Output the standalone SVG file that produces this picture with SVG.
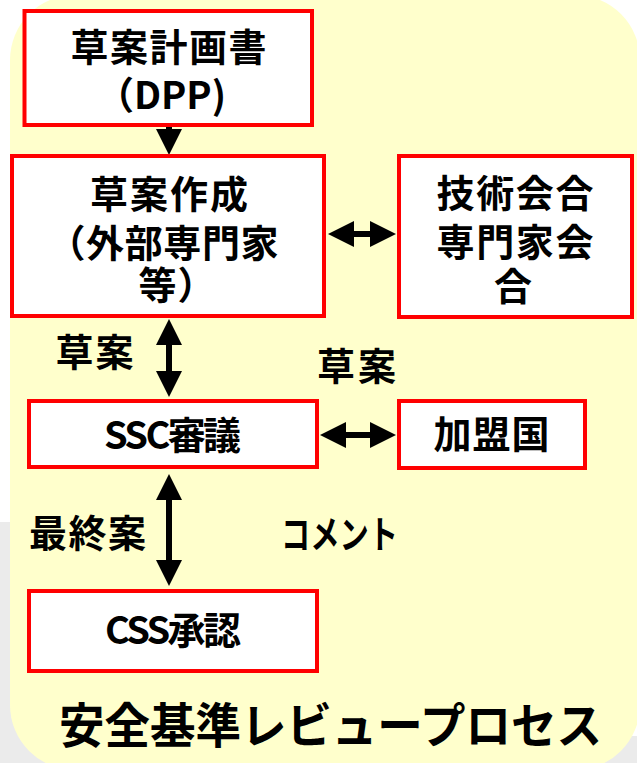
<svg xmlns="http://www.w3.org/2000/svg" width="637" height="763" viewBox="0 0 637 763">
<style>
.box{fill:#ffffff;stroke:#ff0000;stroke-width:4}
.t{font-family:"Noto Sans CJK JP","Noto Sans",sans-serif;font-weight:bold;font-size:38px;fill:#000;text-anchor:middle}
.title{font-size:48px}
.c{stroke:#000;stroke-width:6;fill:none}
</style>
<defs>
<marker id="ah" viewBox="0 0 26 26" refX="1" refY="13" markerWidth="26" markerHeight="26" markerUnits="userSpaceOnUse" orient="auto-start-reverse">
<path d="M0,0 L26,13 L0,26 z" fill="#000"/>
</marker>
</defs>
<rect x="0" y="0" width="637" height="763" fill="#ffffff"/>
<rect x="0" y="522" width="637" height="241" fill="#ebebeb"/>
<rect x="600" y="522" width="37" height="214" fill="#ffffff"/>
<rect x="10" y="-5" width="630" height="775" rx="65" ry="65" fill="#ffffcc"/>

<g id="connectors">
<line class="c" x1="169" y1="125" x2="169" y2="130" marker-end="url(#ah)"/>
<line class="c" x1="353" y1="234" x2="371" y2="234" marker-start="url(#ah)" marker-end="url(#ah)"/>
<line class="c" x1="169" y1="344" x2="169" y2="372" marker-start="url(#ah)" marker-end="url(#ah)"/>
<line class="c" x1="345" y1="435" x2="371" y2="435" marker-start="url(#ah)" marker-end="url(#ah)"/>
<line class="c" x1="169" y1="499" x2="169" y2="561" marker-start="url(#ah)" marker-end="url(#ah)"/>
</g>

<g id="node-dpp">
<rect class="box" x="24.5" y="11" width="287.5" height="114"/>
<text class="t" x="168.5" y="61" textLength="196">草案計画書</text>
<text class="t" x="161" y="109">（DPP)</text>
</g>

<g id="node-draft">
<rect class="box" x="12" y="156" width="312" height="160"/>
<text class="t" x="169" y="208" textLength="158">草案作成</text>
<text class="t" x="163" y="257" textLength="231">（外部専門家</text>
<text class="t" x="177" y="299" textLength="77">等）</text>
</g>

<g id="node-meeting">
<rect class="box" x="399" y="156" width="233" height="161"/>
<text class="t" x="515" y="207" textLength="157">技術会合</text>
<text class="t" x="515" y="256" textLength="157">専門家会</text>
<text class="t" x="513" y="300">合</text>
</g>

<g id="node-ssc">
<rect class="box" x="29" y="401" width="288" height="66"/>
<text class="t" x="172.5" y="449" textLength="137">SSC審議</text>
</g>

<g id="node-members">
<rect class="box" x="399" y="401" width="186" height="67"/>
<text class="t" x="491.5" y="448" textLength="116">加盟国</text>
</g>

<g id="node-css">
<rect class="box" x="29" y="591" width="288" height="80"/>
<text class="t" x="173" y="644" textLength="136">CSS承認</text>
</g>

<g id="labels">
<text class="t" x="94.5" y="366" textLength="78">草案</text>
<text class="t" x="356.5" y="380" textLength="79">草案</text>
<text class="t" x="87.5" y="547" textLength="117">最終案</text>
<text class="t" x="339.5" y="548" textLength="117" lengthAdjust="spacingAndGlyphs">コメント</text>
<text class="t title" x="330.5" y="743" textLength="543" lengthAdjust="spacingAndGlyphs">安全基準レビュープロセス</text>
</g>
</svg>
